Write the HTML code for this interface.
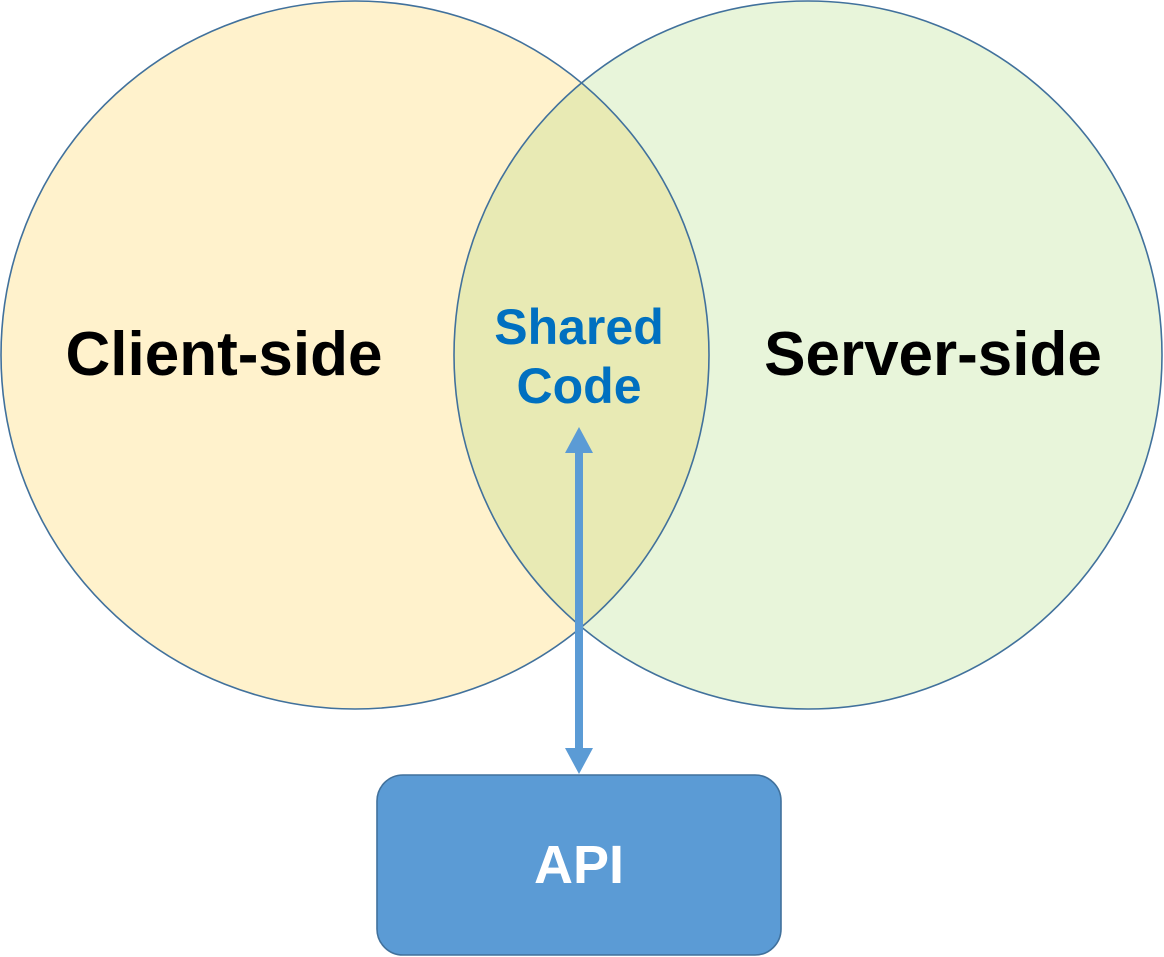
<!DOCTYPE html>
<html>
<head>
<meta charset="utf-8">
<style>
  html, body { margin: 0; padding: 0; background: #ffffff; }
  body { width: 1164px; height: 957px; overflow: hidden; }
  svg { display: block; }
  text { font-family: "Liberation Sans", "DejaVu Sans", sans-serif; font-weight: bold; }
</style>
</head>
<body>
<svg width="1164" height="957" viewBox="0 0 1164 957" xmlns="http://www.w3.org/2000/svg">
  <defs>
    <clipPath id="leftClip">
      <circle cx="355" cy="355" r="354"/>
    </clipPath>
  </defs>
  <!-- Left circle -->
  <circle cx="355" cy="355" r="354" fill="#FFF2CC"/>
  <!-- Right circle -->
  <circle cx="808" cy="355" r="354" fill="#E8F5DA"/>
  <!-- Intersection -->
  <circle cx="808" cy="355" r="354" fill="#E8EAB4" clip-path="url(#leftClip)"/>
  <!-- Outlines -->
  <circle cx="355" cy="355" r="354" fill="none" stroke="#41719C" stroke-width="1.6"/>
  <circle cx="808" cy="355" r="354" fill="none" stroke="#41719C" stroke-width="1.6"/>

  <!-- Labels -->
  <text x="224" y="375" font-size="62" fill="#000000" text-anchor="middle">Client-side</text>
  <text x="933" y="375" font-size="62" fill="#000000" text-anchor="middle">Server-side</text>
  <text x="579" y="344" font-size="50" fill="#0070C0" text-anchor="middle">Shared</text>
  <text x="579" y="403" font-size="50" fill="#0070C0" text-anchor="middle">Code</text>

  <!-- Arrow -->
  <rect x="575" y="452" width="8" height="298" fill="#5B9BD5"/>
  <polygon points="579,427 593,453 565,453" fill="#5B9BD5"/>
  <polygon points="579,774 593,748 565,748" fill="#5B9BD5"/>

  <!-- API box -->
  <rect x="377" y="775" width="404" height="180" rx="26" ry="26" fill="#5B9BD5" stroke="#41719C" stroke-width="1.6"/>
  <text x="579" y="883" font-size="54" fill="#ffffff" text-anchor="middle">API</text>
</svg>
</body>
</html>
